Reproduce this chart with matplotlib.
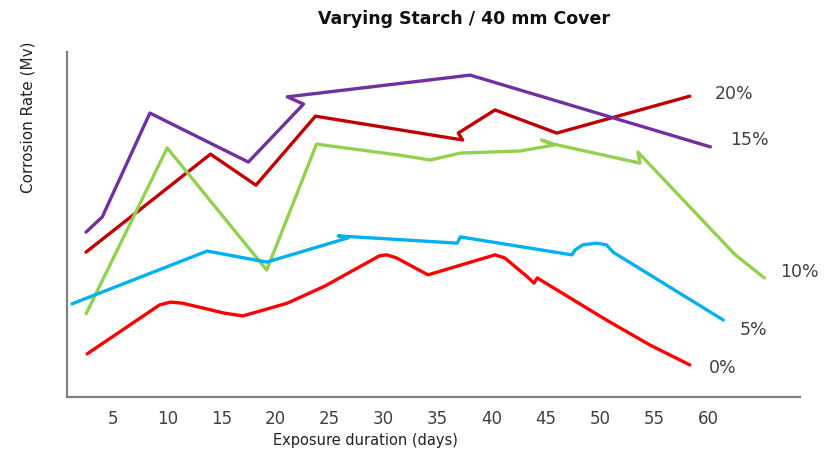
import matplotlib
matplotlib.use("Agg")
import matplotlib.pyplot as plt

plt.rcParams['font.family'] = ['DejaVu Sans']

title = "Varying Starch / 40 mm Cover"
xlabel = "Exposure duration (days)"
ylabel = "Corrosion Rate (Mv)"
xticks = [5, 10, 15, 20, 25, 30, 35, 40, 45, 50, 55, 60]

s20_x = [2.5, 14.0, 18.2, 23.7, 37.3, 36.9, 40.3, 46.0, 58.3]
s20_y = [42.0, 70.4, 61.4, 81.4, 74.5, 76.5, 83.2, 76.5, 87.2]

s15_x = [2.5, 4.0, 8.4, 17.5, 22.6, 21.1, 38.0, 60.2]
s15_y = [47.8, 52.2, 82.3, 68.1, 84.9, 87.0, 93.3, 72.5]

s10_x = [2.5, 10.0, 19.2, 23.8, 31.5, 34.3, 37.1, 42.6, 45.7, 44.6, 45.7, 53.7, 53.5, 62.5, 65.2]
s10_y = [24.1, 72.2, 36.8, 73.3, 70.1, 68.7, 70.7, 71.3, 73.0, 74.5, 73.3, 67.8, 71.0, 41.2, 34.5]

s5_x = [1.2, 13.7, 19.2, 26.7, 25.8, 36.8, 37.1, 47.4, 47.7, 48.4, 49.7, 50.6, 51.2, 61.4]
s5_y = [27.0, 42.3, 39.1, 46.1, 46.7, 44.6, 46.4, 41.2, 42.6, 44.1, 44.6, 44.1, 42.0, 22.3]

s0_x = [2.6, 9.3, 10.3, 11.4, 15.3, 17.0, 21.1, 24.6, 29.6, 30.3, 31.2, 34.1, 40.3, 41.2, 43.3, 43.9, 44.2, 50.6, 54.6, 58.3]
s0_y = [12.5, 26.7, 27.5, 27.2, 24.3, 23.5, 27.2, 32.2, 40.9, 41.2, 40.3, 35.4, 41.2, 40.3, 34.8, 33.0, 34.5, 22.3, 15.1, 9.3]

series = [
    ("20%", s20_x, s20_y, "#C00000", (715, 94)),
    ("15%", s15_x, s15_y, "#7030A0", (730, 140)),
    ("10%", s10_x, s10_y, "#92D050", (780, 272)),
    ("5%", s5_x, s5_y, "#00B0F0", (740, 330)),
    ("0%", s0_x, s0_y, "#FF0000", (709, 368)),
]

W, H = 827, 455
fig = plt.figure(figsize=(W / 100, H / 100), dpi=100)
ax_l, ax_r, ax_t, ax_b = 67, 800, 52, 397
ax = fig.add_axes([ax_l / W, 1 - ax_b / H, (ax_r - ax_l) / W, (ax_b - ax_t) / H])

for name, xs, ys, c, _ in series:
    ax.plot(xs, ys, color=c, lw=2.4, solid_joinstyle='round', solid_capstyle='round')

ax.set_xlim((ax_l - 59) / 10.82, (ax_r - 59) / 10.82)
ax.set_ylim(0, 100)
ax.set_xticks(xticks)
ax.set_xticklabels([str(t) for t in xticks], fontsize=12, color="#404040")
ax.tick_params(axis='x', length=0, pad=9)
ax.set_yticks([])
for s in ['top', 'right']:
    ax.spines[s].set_visible(False)
for s in ['left', 'bottom']:
    ax.spines[s].set_color("#808080")
    ax.spines[s].set_linewidth(1.6)

for name, xs, ys, c, (px, py) in series:
    fig.text(px / W, 1 - py / H, name, fontsize=12.5, color="#404040", ha='left', va='center')

fig.text(464 / W, 1 - 19 / H, title, fontsize=12.5, fontweight='bold', ha='center', va='center', color="#111111")
fig.text(365 / W, 1 - 440 / H, xlabel, fontsize=10.5, ha='center', va='center', color="#222222")
fig.text(28 / W, 1 - 117 / H, ylabel, fontsize=11, rotation=90, ha='center', va='center', color="#222222")

fig.savefig("out.png", dpi=100)
